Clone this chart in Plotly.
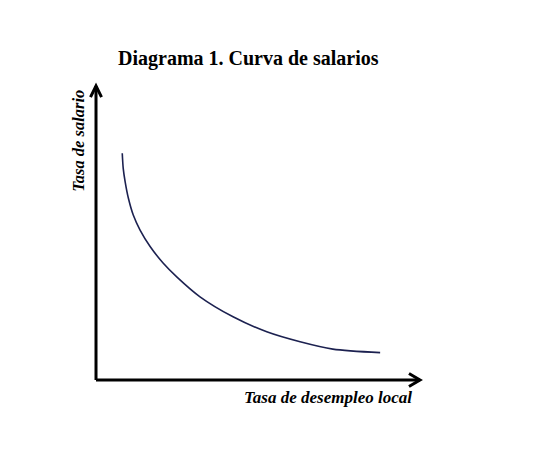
import plotly.graph_objects as go

# Curve values (arbitrary units)
curve_x = [0.81, 0.84, 0.90, 1.00, 1.15, 1.36, 1.67, 2.07, 2.50, 3.21, 4.23, 5.27, 6.30, 7.31, 8.77]
curve_y = [7.71, 7.20, 6.74, 6.18, 5.61, 5.10, 4.54, 3.98, 3.50, 2.83, 2.15, 1.64, 1.30, 1.05, 0.93]

title_text = "Diagrama 1. Curva de salarios"
x_label = "Tasa de desempleo local"
y_label = "Tasa de salario"

XR = [-0.494, 10.494]
YR = [-0.544, 10.544]


def px(v):
    return (v - XR[0]) / (XR[1] - XR[0])


def py(v):
    return (v - YR[0]) / (YR[1] - YR[0])


fig = go.Figure()
fig.add_trace(go.Scatter(
    x=curve_x, y=curve_y, mode="lines",
    line=dict(color="#1c2150", width=1.6, shape="spline", smoothing=0.8),
    hoverinfo="skip", showlegend=False,
))

axis_color = "black"
axis_w = 3
shapes = [
    dict(type="path", xref="x", yref="y", path="M 0,0 L 0,10",
         line=dict(color=axis_color, width=axis_w)),
    dict(type="path", xref="x", yref="y", path="M -0.17,9.62 L 0,10 L 0.17,9.62",
         line=dict(color=axis_color, width=axis_w)),
    dict(type="path", xref="x", yref="y", path="M 0,0 L 10,0",
         line=dict(color=axis_color, width=axis_w)),
    dict(type="path", xref="x", yref="y", path="M 9.66,0.22 L 10,0 L 9.66,-0.22",
         line=dict(color=axis_color, width=axis_w)),
]

serif = "Liberation Serif, Times New Roman, serif"
common = dict(xref="paper", yref="paper", showarrow=False,
              xanchor="center", yanchor="middle")
annotations = [
    dict(text="<b>" + title_text + "</b>", x=px(4.72), y=py(10.95),
         font=dict(family=serif, size=20, color="black"), **common),
    dict(text="<b><i>" + y_label + "</i></b>", x=px(-0.53), y=py(8.13), textangle=-90,
         font=dict(family=serif, size=16.5, color="black"), **common),
    dict(text="<b><i>" + x_label + "</i></b>", x=px(7.16), y=py(-0.61),
         font=dict(family=serif, size=17, color="black"), **common),
]

fig.update_layout(
    width=558, height=465,
    margin=dict(l=72, r=130, t=62, b=77),
    paper_bgcolor="white", plot_bgcolor="white",
    shapes=shapes, annotations=annotations,
    xaxis=dict(range=XR, showgrid=False, zeroline=False,
               showticklabels=False, showline=False, ticks=""),
    yaxis=dict(range=YR, showgrid=False, zeroline=False,
               showticklabels=False, showline=False, ticks=""),
    showlegend=False,
)

fig.write_html("out.html")
